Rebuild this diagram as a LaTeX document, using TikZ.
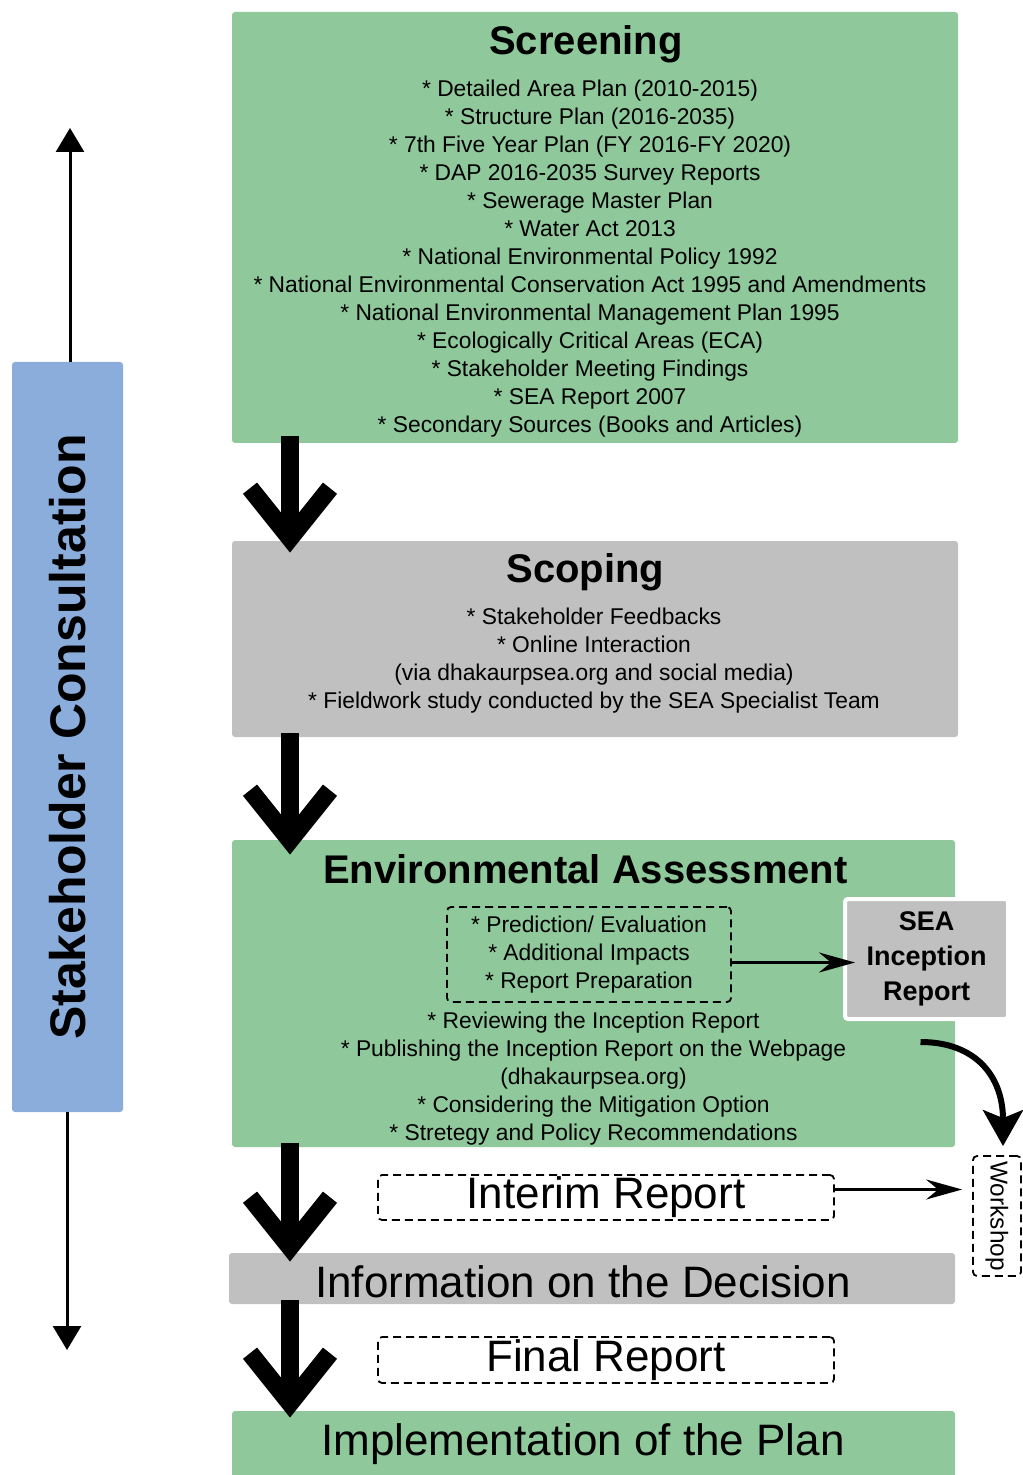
\documentclass[tikz,border=0pt]{standalone}
\usepackage{fontspec}
\setmainfont{Liberation Sans}
\usetikzlibrary{arrows.meta,positioning,calc}
\definecolor{seagreen}{HTML}{8FC99B}
\definecolor{seagray}{HTML}{C0C0C0}
\definecolor{seablue}{HTML}{8AADDB}

\begin{document}
\begin{tikzpicture}[x=0.5pt,y=-0.5pt,
  stagebox/.style={rectangle, rounded corners=1.5pt, inner sep=0pt},
  dashbox/.style={draw, dashed, dash pattern=on 4pt off 2.5pt, line width=0.9pt, rounded corners=2pt, inner sep=0pt},
  ttl/.style={font=\bfseries\fontsize{20}{24}\selectfont, inner sep=0pt},
  bigttl/.style={font=\fontsize{22}{26}\selectfont, inner sep=0pt},
  body/.style={font=\fontsize{11.4}{14}\selectfont, align=center, inner sep=0pt},
  bigarr/.style={line width=9pt, -{Straight Barb[sharp, length=25pt, width=40pt]}},
  arr/.style={line width=1.5pt, -{Stealth[length=18pt, width=10pt, inset=6pt]}},
  sidearr/.style={line width=1.5pt, -{Triangle[length=12pt, width=14pt]}},
  curvarr/.style={line width=3pt, -{Stealth[length=18pt, width=20pt, inset=4pt]}}]
\useasboundingbox (0,0) rectangle (1022,1475);

% stakeholder consultation bar
\node[stagebox, fill=seablue, minimum width=55.5pt, minimum height=375pt,
  font=\bfseries\fontsize{25}{30}\selectfont] (stk) at (67.5,737) {\rotatebox{90}{Stakeholder Consultation}};
\coordinate (stktop) at (70,128);
\coordinate (stkbot) at (67,1350);
\draw[sidearr] (stk.north -| stktop) -- (stktop);
\draw[sidearr] (stk.south -| stkbot) -- (stkbot);

% screening
\node[stagebox, fill=seagreen, minimum width=363pt, minimum height=215.5pt] (scr) at (595,227.5) {};
\node[ttl] (scrT) at (586,44) {Screening};
\node[body] (scrL) at (590,258.5) {* Detailed Area Plan (2010-2015)\\
  * Structure Plan (2016-2035)\\
  * 7th Five Year Plan (FY 2016-FY 2020)\\
  * DAP 2016-2035 Survey Reports\\
  * Sewerage Master Plan\\
  * Water Act 2013\\
  * National Environmental Policy 1992\\
  * National Environmental Conservation Act 1995 and Amendments\\
  * National Environmental Management Plan 1995\\
  * Ecologically Critical Areas (ECA)\\
  * Stakeholder Meeting Findings\\
  * SEA Report 2007\\
  * Secondary Sources (Books and Articles)};

% scoping
\node[stagebox, fill=seagray, minimum width=363pt, minimum height=98pt] (scp) at (595,639) {};
\node[ttl] (scpT) at (585.5,572) {Scoping};
\node[body] (scpL) at (594,661) {* Stakeholder Feedbacks\\
  * Online Interaction\\
  (via dhakaurpsea.org and social media)\\
  * Fieldwork study conducted by the SEA Specialist Team};

% environmental assessment
\node[stagebox, fill=seagreen, minimum width=361.5pt, minimum height=153.5pt] (ea) at (593.5,993.5) {};
\node[ttl] (eaT) at (585.5,869) {Environmental Assessment};
\node[dashbox, body, minimum width=142pt, minimum height=47.5pt] (pred) at (589,954.5) {* Prediction/ Evaluation\\
  * Additional Impacts\\
  * Report Preparation};
\node[body] (eaL) at (593.5,1079) {* Reviewing the Inception Report\\
  * Publishing the Inception Report on the Webpage\\
  (dhakaurpsea.org)\\
  * Considering the Mitigation Option\\
  * Stretegy and Policy Recommendations};

% side outputs
\node[stagebox, fill=seagray, draw=white, line width=2pt, minimum width=81.5pt, minimum height=60pt,
  align=center, font=\bfseries\fontsize{13.5}{17.5}\selectfont] (sea) at (926.5,959) {SEA\\ Inception\\ Report};
\node[dashbox, minimum width=24pt, minimum height=60pt, font=\fontsize{12.2}{14}\selectfont] (ws) at (997,1216) {\rotatebox{-90}{Workshop}};

% reports and later stages
\node[dashbox, bigttl, minimum width=228pt, minimum height=22.5pt] (int) at (606,1197.5) {Interim Report};
\node[stagebox, fill=seagray, minimum width=363pt, minimum height=25.5pt] (info) at (592,1278.5) {};
\node[bigttl] (infoT) at (583,1282) {Information on the Decision};
\node[dashbox, bigttl, minimum width=228pt, minimum height=23pt] (fin) at (606,1360) {Final Report};
\node[stagebox, fill=seagreen, minimum width=361.5pt, minimum height=34.5pt] (impl) at (593.5,1445.5) {};
\node[bigttl] (implT) at (583,1444) {Implementation of the Plan};

% main flow
\coordinate (ax) at (290,0);
\draw[bigarr] ($(scr.south -| ax)+(0,-7)$) -- ($(scp.north -| ax)+(0,12)$);
\draw[bigarr] ($(scp.south -| ax)+(0,-4)$) -- ($(ea.north -| ax)+(0,15)$);
\draw[bigarr] ($(ea.south -| ax)+(0,-4)$) -- ($(info.north -| ax)+(0,9)$);
\draw[bigarr] ($(info.south -| ax)+(0,-4)$) -- ($(impl.north -| ax)+(0,7)$);

% side connectors
\draw[arr] ($(pred.east)+(0,8)$) -- ($(pred.east -| sea.west)+(12,8)$);
\draw[arr] ($(int.east)+(0,-8)$) -- ($(int.east -| ws.west)+(-10,-8)$);
\draw[curvarr] ($(sea.south)+(-6,21)$) .. controls +(55,0) and +(0,-70) .. ($(ws.north)+(6,-9)$);
\end{tikzpicture}
\end{document}
